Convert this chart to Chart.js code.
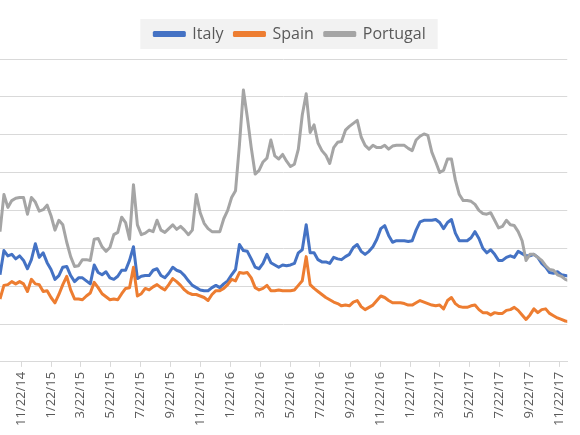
<!DOCTYPE html>
<html>
<head>
<meta charset="utf-8">
<title>Italy, Spain, Portugal spreads</title>
<script src="https://cdn.jsdelivr.net/npm/chart.js@4.4.1/dist/chart.umd.min.js"></script>
<style>
  html, body { margin: 0; padding: 0; background: #fff; }
  #wrap { width: 580px; height: 435px; }
</style>
</head>
<body>
<div id="wrap"><canvas id="spreadChart" width="580" height="435"></canvas></div>
<script>
/* ===== 10y spreads — Italy / Spain / Portugal ===== */

// samples every 8 days starting at firstSample
const firstSample = '2014-10-09';
const sampleStepDays = 8;
const axisStart = '2014-10-09';
const axisEnd = '2017-12-08';

const tickLabels = [
    '11/22/14', '1/22/15', '3/22/15', '5/22/15', '7/22/15', '9/22/15', '11/22/15',
    '1/22/16', '3/22/16', '5/22/16', '7/22/16', '9/22/16', '11/22/16',
    '1/22/17', '3/22/17', '5/22/17', '7/22/17', '9/22/17', '11/22/17'
];

const italy = [
    115, 147, 140, 142, 136, 140, 134, 123, 135, 156,
    138, 144, 131, 122, 109, 114, 125, 126, 114, 106,
    111, 111, 107, 103, 128, 118, 115, 119, 111, 109,
    113, 121, 121, 134, 152, 110, 113, 114, 114, 121,
    123, 114, 111, 117, 125, 121, 119, 114, 107, 101,
    98, 95, 94, 94, 98, 101, 98, 103, 107, 115,
    122, 155, 147, 146, 136, 125, 123, 130, 142, 131,
    128, 125, 128, 127, 128, 130, 144, 148, 181, 144,
    144, 135, 132, 132, 130, 138, 136, 135, 139, 142,
    151, 155, 146, 142, 146, 152, 162, 176, 180, 167,
    158, 160, 160, 160, 159, 160, 174, 185, 187, 187,
    187, 188, 184, 176, 184, 188, 170, 160, 160, 160,
    164, 172, 163, 150, 144, 148, 142, 134, 134, 138,
    140, 138, 146, 143, 140, 140, 142, 138, 130, 125,
    118, 117, 119, 115, 114, 113
];

const spain = [
    83, 101, 102, 106, 103, 106, 103, 93, 109, 103,
    102, 93, 94, 85, 78, 89, 102, 113, 95, 83,
    83, 82, 87, 91, 105, 98, 90, 86, 82, 83,
    82, 90, 97, 98, 125, 87, 90, 97, 95, 99,
    102, 98, 95, 102, 110, 106, 101, 95, 91, 89,
    89, 87, 85, 81, 89, 94, 94, 97, 102, 109,
    107, 118, 117, 118, 111, 98, 95, 97, 101, 94,
    94, 95, 94, 94, 94, 95, 101, 107, 139, 102,
    97, 93, 89, 85, 82, 79, 77, 74, 75, 74,
    79, 81, 73, 69, 72, 75, 81, 87, 85, 81,
    78, 78, 78, 77, 75, 75, 78, 81, 79, 77,
    75, 74, 75, 70, 81, 85, 77, 73, 72, 72,
    74, 75, 69, 65, 65, 62, 65, 64, 64, 68,
    69, 72, 68, 62, 56, 62, 70, 65, 69, 70,
    64, 61, 58, 56, 54, 53
];

const portugal = [
    172, 221, 204, 213, 216, 217, 217, 195, 217, 211,
    199, 201, 207, 193, 174, 187, 181, 158, 139, 126,
    127, 135, 135, 134, 162, 163, 152, 146, 151, 168,
    171, 191, 184, 162, 234, 181, 168, 170, 174, 172,
    187, 174, 171, 176, 181, 175, 179, 174, 168, 174,
    221, 197, 183, 176, 172, 172, 172, 189, 200, 217,
    226, 287, 359, 323, 283, 248, 253, 264, 269, 293,
    272, 268, 274, 265, 258, 261, 281, 326, 354, 303,
    313, 289, 279, 273, 262, 283, 290, 291, 306, 311,
    315, 319, 297, 286, 281, 286, 283, 283, 286, 281,
    285, 286, 286, 286, 282, 279, 293, 298, 301, 299,
    277, 264, 250, 253, 268, 268, 240, 221, 213, 213,
    212, 208, 200, 196, 195, 197, 187, 177, 179, 187,
    181, 180, 172, 160, 134, 142, 142, 138, 134, 127,
    122, 121, 115, 113, 109, 107
];

function isoDay(iso) {
    const [y, m, d] = iso.split('-').map(Number);
    return Date.UTC(y, m - 1, d) / 86400000;
}

function usDay(label) {
    const [m, d, yy] = label.split('/').map(Number);
    return Date.UTC(2000 + yy, m - 1, d) / 86400000;
}

const startDay = isoDay(firstSample);
const toPoints = (values) => values.map((v, i) => ({ x: startDay + i * sampleStepDays, y: v }));
const tickDays = tickLabels.map(usDay);

// light grey panel behind the legend, like the Excel original
const legendPanel = {
    id: 'legendPanel',
    beforeInit(chart) {
        // leave a bit more room between the legend and the plot
        const legend = chart.legend;
        const fit = legend.fit;
        legend.fit = function () {
            fit.call(this);
            this.height += 7;
        };
    },
    beforeDraw(chart) {
        const boxes = chart.legend && chart.legend.legendHitBoxes;
        if (!boxes || !boxes.length) return;
        const left = Math.min(...boxes.map(b => b.left)) - 14;
        const right = Math.max(...boxes.map(b => b.left + b.width)) + 12;
        const mid = boxes[0].top + boxes[0].height / 2;
        const ctx = chart.ctx;
        ctx.save();
        ctx.fillStyle = '#f2f2f2';
        ctx.fillRect(left, mid - 15, right - left, 30);
        ctx.restore();
    }
};

document.addEventListener('DOMContentLoaded', function () {
    const ctx = document.getElementById('spreadChart');
    new Chart(ctx, {
        type: 'line',
        data: {
            datasets: [
                {
                    label: 'Italy',
                    data: toPoints(italy),
                    borderColor: '#4472c4',
                    backgroundColor: '#4472c4',
                    order: 3
                },
                {
                    label: 'Spain',
                    data: toPoints(spain),
                    borderColor: '#ed7d31',
                    backgroundColor: '#ed7d31',
                    order: 2
                },
                {
                    label: 'Portugal',
                    data: toPoints(portugal),
                    borderColor: '#a5a5a5',
                    backgroundColor: '#a5a5a5',
                    order: 1
                }
            ]
        },
        options: {
            responsive: false,
            animation: false,
            devicePixelRatio: 1,
            layout: { padding: { top: 15, right: 0, bottom: 4, left: 0 } },
            elements: {
                line: { borderWidth: 3, tension: 0, borderJoinStyle: 'round' },
                point: { radius: 0 }
            },
            plugins: {
                tooltip: { enabled: false },
                legend: {
                    position: 'top',
                    labels: {
                        boxWidth: 30,
                        boxHeight: 3,
                        padding: 11,
                        color: '#595959',
                        font: { family: 'Open Sans', size: 16 },
                        sort: (a, b) => a.datasetIndex - b.datasetIndex
                    }
                }
            },
            scales: {
                x: {
                    type: 'linear',
                    min: isoDay(axisStart),
                    max: isoDay(axisEnd),
                    afterBuildTicks: (scale) => {
                        scale.ticks = tickDays.map(v => ({ value: v }));
                    },
                    ticks: {
                        autoSkip: false,
                        minRotation: 90,
                        maxRotation: 90,
                        padding: 5,
                        color: '#595959',
                        font: { family: 'Open Sans', size: 13 },
                        callback: (value, index) => tickLabels[index]
                    },
                    grid: { drawOnChartArea: false, drawTicks: true, tickLength: 5, color: '#d9d9d9' },
                    border: { color: '#d9d9d9' }
                },
                y: {
                    min: 0,
                    max: 400,
                    ticks: { stepSize: 50, display: false },
                    grid: { color: '#d9d9d9', drawTicks: false },
                    border: { display: false }
                }
            }
        },
        plugins: [legendPanel]
    });
});
</script>
</body>
</html>
